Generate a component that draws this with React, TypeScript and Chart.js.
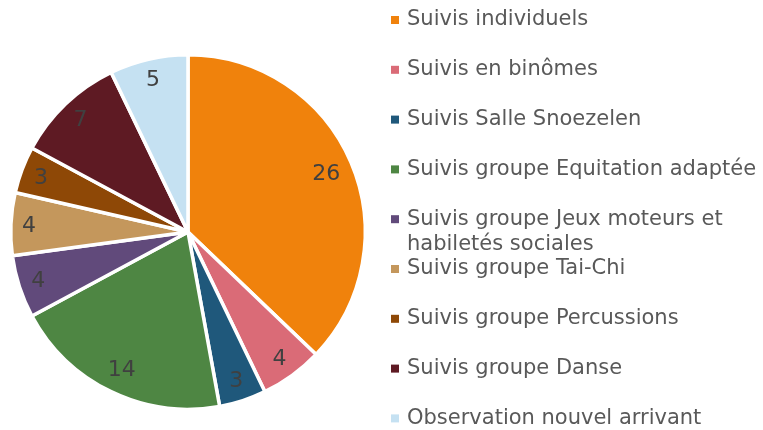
import React, { useEffect, useRef } from "react";
import { Chart, registerables } from "chart.js";

Chart.register(...registerables);

const categories = [
  "Suivis individuels",
  "Suivis en binômes",
  "Suivis Salle Snoezelen",
  "Suivis groupe Equitation adaptée",
  "Suivis groupe Jeux moteurs et habiletés sociales",
  "Suivis groupe Tai-Chi",
  "Suivis groupe Percussions",
  "Suivis groupe Danse",
  "Observation nouvel arrivant",
];
const values = [26, 4, 3, 14, 4, 4, 3, 7, 5];
const colors = [
  "#F0820C",
  "#DA6B77",
  "#1F587B",
  "#4E8643",
  "#614A7B",
  "#C4975C",
  "#8E4806",
  "#5E1A23",
  "#C5E1F2",
];

const FONT = '"DejaVu Sans", sans-serif';

const sliceLabels = {
  id: "sliceLabels",
  afterDatasetsDraw(chart: any) {
    const ctx = chart.ctx;
    const meta = chart.getDatasetMeta(0);
    const data = chart.data.datasets[0].data;
    ctx.save();
    ctx.font = `22px ${FONT}`;
    ctx.fillStyle = "#404040";
    ctx.textAlign = "center";
    ctx.textBaseline = "middle";
    meta.data.forEach((arc: any, i: number) => {
      const p = arc.getProps(["x", "y", "startAngle", "endAngle", "outerRadius"], true);
      const mid = (p.startAngle + p.endAngle) / 2;
      const text = String(data[i]);
      const w = ctx.measureText(text).width;
      const h = 17;
      const c = Math.cos(mid);
      const s = Math.sin(mid);
      const d = p.outerRadius * 0.94 - (w / 2 * Math.abs(c) + h / 2 * Math.abs(s));
      ctx.fillText(text, p.x + c * d, p.y + s * d + 1);
    });
    ctx.restore();
  },
};

function wrap(ctx: CanvasRenderingContext2D, text: string, maxW: number): string[] {
  const words = text.split(" ");
  const lines: string[] = [];
  let cur = "";
  for (const w of words) {
    const t = cur ? cur + " " + w : w;
    if (cur && ctx.measureText(t).width > maxW) {
      lines.push(cur);
      cur = w;
    } else {
      cur = t;
    }
  }
  if (cur) lines.push(cur);
  return lines;
}

const sideLegend = {
  id: "sideLegend",
  afterDraw(chart: any) {
    const ctx = chart.ctx;
    const labels: string[] = chart.data.labels;
    const bg: string[] = chart.data.datasets[0].backgroundColor;
    ctx.save();
    ctx.font = `21px ${FONT}`;
    ctx.textBaseline = "middle";
    ctx.textAlign = "left";
    const textX = 407;
    const maxW = chart.width - textX - 2;
    labels.forEach((lab, i) => {
      const y = 20 + i * 49.8;
      ctx.fillStyle = bg[i];
      ctx.fillRect(391, y - 4, 8, 8);
      ctx.fillStyle = "#595959";
      const lines = wrap(ctx, lab, maxW);
      lines.forEach((ln, j) => ctx.fillText(ln, textX, y + j * 25));
    });
    ctx.restore();
  },
};

export default function App() {
  const ref = useRef<HTMLCanvasElement>(null);
  useEffect(() => {
    document.body.style.margin = "0";
    const chart = new Chart(ref.current!, {
      type: "pie",
      data: {
        labels: categories,
        datasets: [
          {
            data: values,
            backgroundColor: colors,
            borderColor: "#FFFFFF",
            borderWidth: 3.5,
          },
        ],
      },
      options: {
        responsive: false,
        animation: false,
        layout: { padding: { left: 9, top: 53, right: 396, bottom: 19 } },
        plugins: {
          legend: { display: false },
          tooltip: { enabled: false },
        },
      },
      plugins: [sliceLabels, sideLegend],
    });
    return () => chart.destroy();
  }, []);
  return (
    <div style={{ width: 763, height: 430, background: "#fff" }}>
      <canvas ref={ref} width={763} height={430} />
    </div>
  );
}
